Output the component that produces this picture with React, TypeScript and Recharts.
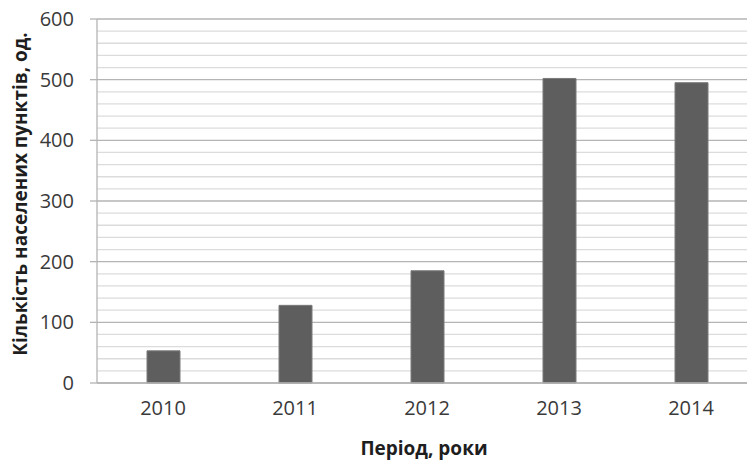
import { BarChart, Bar, XAxis, YAxis, CartesianGrid, Label } from 'recharts';

const years = ['2010', '2011', '2012', '2013', '2014'];
const settlements = [53, 128, 185, 502, 495];
const majorTicks = [0, 100, 200, 300, 400, 500, 600];
const minorTicks = [0, 20, 40, 60, 80, 100, 120, 140, 160, 180, 200, 220, 240, 260, 280, 300,
  320, 340, 360, 380, 400, 420, 440, 460, 480, 500, 520, 540, 560, 580, 600];

const yTitle = 'Кількість населених пунктів, од.';
const xTitle = 'Період, роки';

const font = '"Open Sans", "Noto Sans", sans-serif';
const majorColor = '#b4b4b4';
const minorColor = '#dcdcdc';

// only every 100 gets a label and a tick mark, the rest are just grid lines
function YTick(props: any) {
  const { x, y, payload } = props;
  if (!majorTicks.includes(payload.value)) return <g />;
  return (
    <g>
      <line x1={x + 16} x2={x + 23} y1={y} y2={y} stroke={majorColor} strokeWidth={1.3} />
      <text x={x} y={y} dy={7} textAnchor="end" fill="#3a3a3a" fontSize={20} fontFamily={font}>
        {payload.value}
      </text>
    </g>
  );
}

// grid line every 20, darker every 100 (every 5th line)
function GridLine(props: any) {
  const { x1, x2, y1, y2, index } = props;
  const major = index % 5 === 0;
  return <line x1={x1} x2={x2} y1={y1} y2={y2} stroke={major ? majorColor : minorColor} strokeWidth={1.3} />;
}

export default function App() {
  const data = years.map((year, i) => ({ year, value: settlements[i] }));

  return (
    <div style={{ width: 747, height: 462, overflow: 'hidden', background: '#fff' }}>
      <style>{'body { margin: 0; }'}</style>
      <BarChart width={760} height={462} data={data} margin={{ top: 19, right: 3, left: 0, bottom: 0 }}>
        <CartesianGrid vertical={false} horizontal={GridLine} />
        <XAxis
          dataKey="year"
          height={79}
          axisLine={{ stroke: majorColor, strokeWidth: 1.3 }}
          tickLine={false}
          tickMargin={12}
          tick={{ fill: '#3a3a3a', fontSize: 20, fontFamily: font }}
        >
          <Label
            content={() => (
              <text x={424} y={455} textAnchor="middle" fill="#1e1e1e" fontSize={19} fontWeight="bold" fontFamily={font}>
                {xTitle}
              </text>
            )}
          />
        </XAxis>
        <YAxis
          width={97}
          domain={[0, 600]}
          ticks={minorTicks}
          interval={0}
          axisLine={{ stroke: majorColor, strokeWidth: 1.3 }}
          tickLine={false}
          tickSize={7}
          tickMargin={16}
          tick={YTick}
        >
          <Label
            content={() => (
              <text
                x={0}
                y={0}
                transform="translate(27, 194) rotate(-90)"
                textAnchor="middle"
                fill="#1e1e1e"
                fontSize={19}
                fontWeight="bold"
                fontFamily={font}
              >
                {yTitle}
              </text>
            )}
          />
        </YAxis>
        <Bar
          dataKey="value"
          barSize={33}
          fill="#5e5e5e"
          stroke="#7a7a7a"
          strokeWidth={1}
          isAnimationActive={false}
        />
      </BarChart>
    </div>
  );
}
